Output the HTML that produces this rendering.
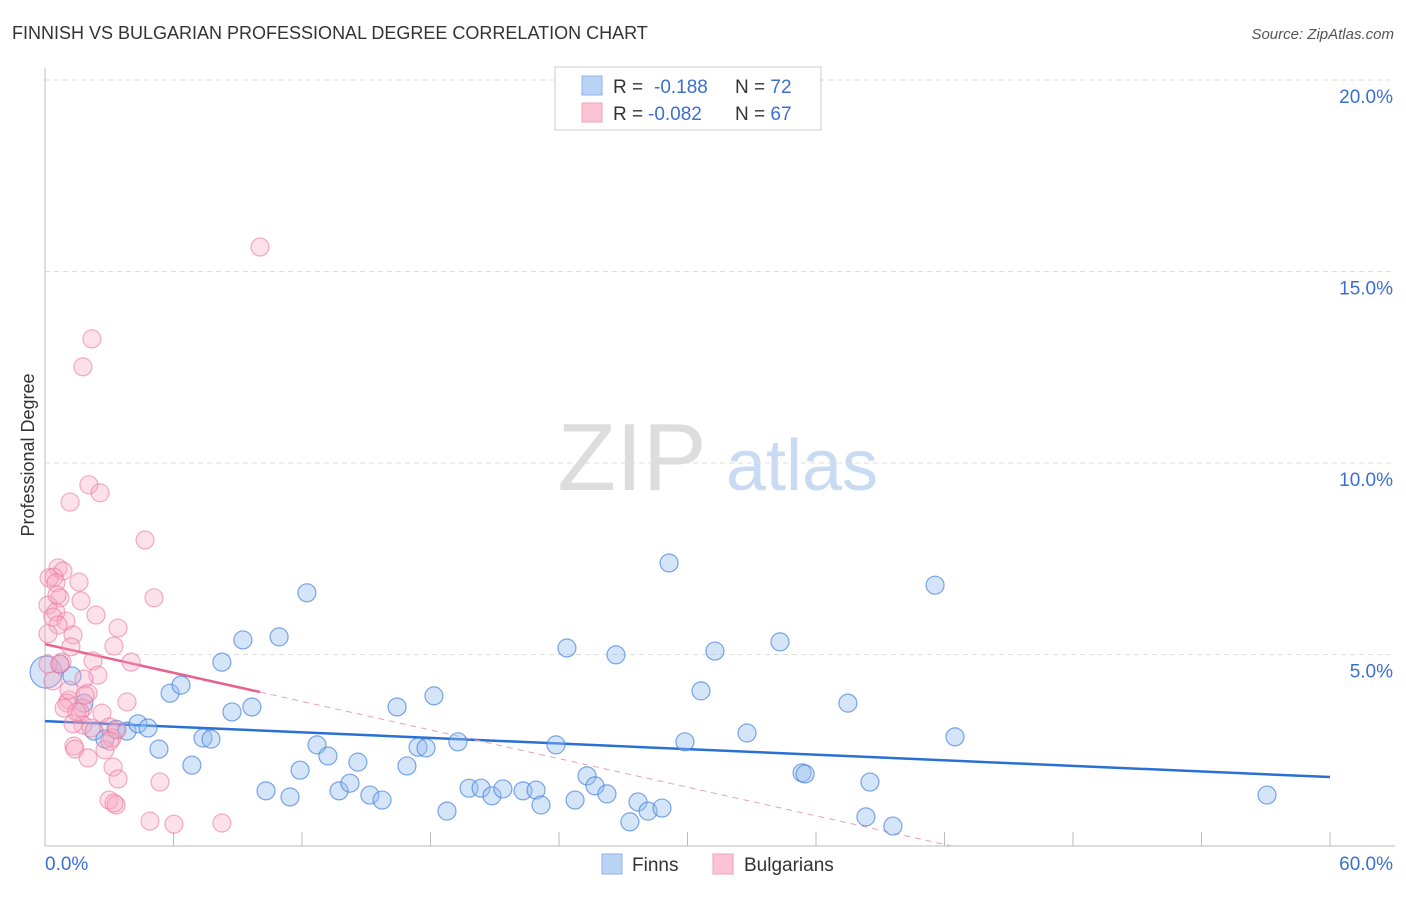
<!DOCTYPE html>
<html><head><meta charset="utf-8"><style>
body{margin:0;background:#fff;font-family:"Liberation Sans",sans-serif;}
svg text{font-family:"Liberation Sans",sans-serif;}
</style></head><body>
<svg id="chart" width="1406" height="892" xmlns="http://www.w3.org/2000/svg">
<text x="12" y="39" font-size="18" fill="#333">FINNISH VS BULGARIAN PROFESSIONAL DEGREE CORRELATION CHART</text>
<text x="1394" y="39" font-size="15" fill="#555" font-style="italic" text-anchor="end">Source: ZipAtlas.com</text>
<text x="0" y="0" font-size="18" fill="#333" text-anchor="middle" transform="translate(34,455) rotate(-90)">Professional Degree</text>
<g>
<text x="632" y="490" font-size="96" fill="#ddd" font-family="Liberation Serif" text-anchor="middle">ZIP</text>
<text x="802" y="490" font-size="72" fill="#c9daf3" text-anchor="middle">atlas</text>
</g>
<g id="grid"></g><g id="axes"></g><g id="trend"></g><g id="pts"></g>
<g>
<rect x="555" y="67" width="266" height="63" fill="#fff" stroke="#ccc"/>
<rect x="582" y="76" width="20" height="19" fill="#b9d3f5" stroke="#8fb3e6"/>
<rect x="582" y="103" width="20" height="19" fill="#fbc4d4" stroke="#f1a0b8"/>
<text x="613" y="93" font-size="19" fill="#333">R = <tspan x="654" fill="#3b6fd0">-0.188</tspan><tspan x="735" fill="#333">N = </tspan><tspan fill="#3b6fd0">72</tspan></text>
<text x="613" y="120" font-size="19" fill="#333">R = <tspan x="648" fill="#3b6fd0">-0.082</tspan><tspan x="735" fill="#333">N = </tspan><tspan fill="#3b6fd0">67</tspan></text>
</g>
<g>
<rect x="602" y="854" width="20" height="20" fill="#b9d3f5" stroke="#8fb3e6"/>
<text x="632" y="871" font-size="19" fill="#333">Finns</text>
<rect x="713" y="854" width="20" height="20" fill="#fbc4d4" stroke="#f1a0b8"/>
<text x="744" y="871" font-size="19" fill="#333">Bulgarians</text>
</g>
</svg>
<script>
const yTicks=[5,10,15,20];
const yTickLabels=["5.0%","10.0%","15.0%","20.0%"];
const xTickLabels=["0.0%","60.0%"];
const finnsX=[0.05,0.70,1.26,1.82,2.29,2.80,3.32,3.83,4.34,4.81,5.32,5.84,6.35,6.86,7.38,7.75,8.26,8.73,9.24,9.66,10.32,10.93,11.44,11.91,12.23,12.70,13.21,13.73,14.24,14.61,15.17,15.74,16.44,16.90,17.42,17.79,18.16,18.77,19.28,19.80,20.36,20.87,21.38,22.32,22.93,23.16,23.86,24.37,24.75,25.31,25.68,26.24,26.66,27.31,27.69,28.16,28.81,29.14,29.88,30.63,31.28,32.78,34.32,35.35,35.49,37.49,38.52,38.33,39.59,41.56,42.49,57.06];
const finnsY=[4.54,4.75,4.44,3.73,3.00,2.79,3.05,3.00,3.19,3.08,2.53,3.99,4.20,2.11,2.82,2.79,4.80,3.50,5.38,3.63,1.44,5.46,1.28,1.98,6.61,2.64,2.35,1.44,1.64,2.19,1.33,1.20,3.63,2.09,2.58,2.56,3.92,0.91,2.72,1.51,1.51,1.31,1.49,1.44,1.46,1.07,2.64,5.17,1.20,1.83,1.57,1.36,4.99,0.63,1.15,0.91,0.99,7.39,2.72,4.05,5.09,2.95,5.33,1.91,1.88,3.73,1.67,0.76,0.52,6.81,2.85,1.33];
const bulgX=[10.04,2.19,1.77,2.05,2.57,1.17,4.67,0.61,0.84,0.42,0.19,1.59,0.51,5.09,1.68,0.70,0.14,0.51,0.37,2.38,0.98,0.61,3.41,0.14,1.31,1.21,3.22,2.24,4.02,0.79,2.47,1.82,0.37,2.01,1.12,1.03,3.83,1.77,1.63,2.66,0.89,2.99,1.77,3.13,1.31,3.36,1.35,1.40,2.01,2.80,3.18,3.41,5.37,2.99,3.32,3.22,4.90,6.02,8.26,1.12,1.49,2.15,3.03,1.87,0.56,0.14,0.70];
const bulgY=[15.64,13.24,12.51,9.43,9.22,8.98,7.99,7.26,7.18,7.02,7.00,6.89,6.87,6.48,6.40,6.48,6.29,6.11,5.98,6.03,5.87,5.77,5.69,5.54,5.51,5.20,5.22,4.83,4.80,4.80,4.46,4.36,4.31,3.99,3.81,3.73,3.76,3.60,3.50,3.47,3.60,3.11,3.16,2.82,3.19,3.03,2.61,2.53,2.30,2.51,2.06,1.75,1.67,1.20,1.07,1.12,0.65,0.57,0.60,4.07,3.50,3.08,2.74,3.94,6.55,4.75,4.75];
const finnsTrend=[3.26,1.80];
const bulgTrend=[5.27,4.02];
const X0=45,X1=1330,Y0=846,PY=38.3;
const sx=v=>X0+(v/60)*(X1-X0);
const sy=v=>Y0-v*PY;
const NS="http://www.w3.org/2000/svg";
function mk(tag,attrs,parent){const e=document.createElementNS(NS,tag);for(const k in attrs)e.setAttribute(k,attrs[k]);document.getElementById(parent).appendChild(e);return e;}
yTicks.forEach((t,i)=>{
 const g=mk('line',{x1:X0,x2:1395,y1:sy(t),y2:sy(t),stroke:'#ddd','stroke-dasharray':'5,4'},'grid');
 
 
 const l=mk('text',{x:1393,y:sy(t)+23,'font-size':19,fill:'#3b6fd0','text-anchor':'end'},'grid');
 l.textContent=yTickLabels[i];
 
 
});
const tg=mk('line',{x1:X0,x2:1395,y1:80,y2:80,stroke:'#ddd','stroke-dasharray':'5,4'},'grid');
const ya=mk('line',{x1:X0,x2:X0,y1:68,y2:Y0,stroke:'#bbb'},'axes');


const xa=mk('line',{x1:X0,x2:1395,y1:Y0,y2:Y0,stroke:'#bbb'},'axes');


for(let i=1;i<=10;i++){const t=mk('line',{x1:sx(i*6),x2:sx(i*6),y1:Y0-14,y2:Y0,stroke:'#bbb'},'axes');
 
 }
const xl0=mk('text',{x:45,y:870,'font-size':19,fill:'#3b6fd0'},'axes');xl0.textContent=xTickLabels[0];


const xl1=mk('text',{x:1393,y:870,'font-size':19,fill:'#3b6fd0','text-anchor':'end'},'axes');xl1.textContent=xTickLabels[1];


finnsX.forEach((x,i)=>{const c=mk('circle',{cx:sx(x),cy:sy(finnsY[i]),r:i===0?16:9,fill:'rgba(150,190,240,0.4)',stroke:'rgba(70,130,220,0.7)','stroke-width':1.2},'pts');
 
 });
bulgX.forEach((x,i)=>{const c=mk('circle',{cx:sx(x),cy:sy(bulgY[i]),r:9,fill:'rgba(248,170,195,0.35)',stroke:'rgba(235,120,160,0.6)','stroke-width':1.2},'pts');
 
 });
const fl=mk('line',{x1:sx(0),y1:sy(finnsTrend[0]),x2:sx(60),y2:sy(finnsTrend[1]),stroke:'#2a6fd6','stroke-width':2.5},'trend');


const slope=(bulgTrend[1]-bulgTrend[0])/10.04;
const bl=mk('line',{x1:sx(0),y1:sy(bulgTrend[0]),x2:sx(10.04),y2:sy(bulgTrend[1]),stroke:'#e8608c','stroke-width':2.5},'trend');


const xz=-bulgTrend[0]/slope;
const bd=mk('line',{x1:sx(10.04),y1:sy(bulgTrend[1]),x2:sx(xz),y2:sy(0),stroke:'#e8a0b8','stroke-width':1,'stroke-dasharray':'6,5'},'trend');


</script>
</body></html>
